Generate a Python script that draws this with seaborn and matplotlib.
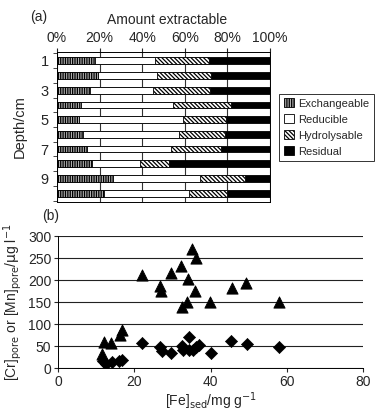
import numpy as np
import pandas as pd
import matplotlib
matplotlib.use("Agg")
import matplotlib.pyplot as plt
from matplotlib.patches import Patch
import seaborn as sns

sns.set_style("white")
plt.rcParams['font.family'] = ['Liberation Sans', 'DejaVu Sans']
plt.rcParams['hatch.linewidth'] = 0.9

# (a) fractions, % of total, per depth
depth = ["1", "2", "3", "4", "5", "6", "7", "8", "9", "10"]
exchangeable = [17.7, 19.2, 15.3, 11.4, 10.3, 12.2, 14.1, 16.4, 26.3, 22.3]
reducible = [28.5, 27.8, 29.9, 43.1, 48.8, 45.1, 39.3, 22.4, 41.0, 39.6]
hydrolysable = [25.1, 25.2, 26.5, 27.1, 20.4, 21.5, 23.5, 13.9, 21.0, 17.9]
residual = [28.7, 27.8, 28.3, 18.4, 20.5, 21.2, 23.1, 47.3, 11.7, 20.2]
fractions = ["Exchangeable", "Reducible", "Hydrolysable", "Residual"]

# (b) pore water vs sediment iron
fe_mn = [12.0, 14.0, 11.6, 16.2, 16.8, 21.9, 26.8, 27.0, 29.5, 32.3, 32.5, 34.1,
         33.9, 35.1, 36.3, 36.0, 39.8, 45.5, 49.4, 58.0]
mn_pore = [60, 58, 32, 76, 86, 212, 186, 174, 215, 233, 138, 203,
           149, 270, 250, 175, 151, 181, 193, 149]
fe_cr = [11.8, 12.5, 14.2, 15.9, 16.8, 22.0, 26.8, 27.2, 29.7, 32.4, 32.7, 34.3,
         34.3, 35.4, 36.3, 36.9, 40.0, 45.3, 49.6, 58.0]
cr_pore = [15, 10, 13, 16, 19, 58, 48, 38, 35, 50, 41, 70,
           41, 41, 47, 52, 33, 62, 54, 47]

df = pd.DataFrame({"depth": depth, "ex": exchangeable, "re": reducible,
                   "hy": hydrolysable, "rs": residual})
df["c1"] = df["ex"]
df["c2"] = df["c1"] + df["re"]
df["c3"] = df["c2"] + df["hy"]
df["c4"] = df["c3"] + df["rs"]

fig = plt.figure(figsize=(3.75, 4.11), dpi=100)
ax1 = fig.add_axes([0.152, 0.5085, 0.568, 0.365])
ax2 = fig.add_axes([0.155, 0.1046, 0.813, 0.321])

# stacked horizontal bars, drawn back to front
hyd_hatch = "\\\\\\\\\\\\\\\\"
exc_hatch = "|||||||"
styles = [("c4", "black", None), ("c3", "white", hyd_hatch),
          ("c2", "white", None), ("c1", "#b0b0b0", exc_hatch)]
for col, fc, hatch in styles:
    n0 = len(ax1.patches)
    sns.barplot(data=df, x=col, y="depth", orient="h", order=depth, ax=ax1,
                color=fc, width=0.46, edgecolor="black", linewidth=0.6,
                saturation=1)
    for p in ax1.patches[n0:]:
        p.set_facecolor(fc)
        if hatch:
            p.set_hatch(hatch)

ax1.set_xlim(0, 100)
ax1.set_ylim(9.6, -0.6)
ax1.xaxis.tick_top()
ax1.set_xticks([0, 20, 40, 60, 80, 100])
ax1.set_xticklabels([f"{v}%" for v in [0, 20, 40, 60, 80, 100]], fontsize=10)
ax1.tick_params(axis="x", length=3, pad=2)
ax1.set_yticks(range(0, 10, 2))
ax1.set_yticklabels(depth[::2], fontsize=10.5)
ax1.set_yticks(np.arange(-0.5, 10, 1), minor=True)
ax1.tick_params(axis="y", which="major", length=0, pad=6)
ax1.tick_params(axis="y", which="minor", length=3, direction="out", left=True)
ax1.xaxis.grid(True, color="#333333", linewidth=0.8)
ax1.set_axisbelow(True)
ax1.set_xlabel("")
ax1.set_ylabel("Depth/cm", fontsize=10.5, labelpad=10)
for s in ax1.spines.values():
    s.set_color("black")
    s.set_linewidth(0.7)
fig.text(0.445, 0.951, "Amount extractable", fontsize=10, ha="center", va="center")
fig.text(0.08, 0.958, "(a)", fontsize=10, va="center")

handles = [Patch(facecolor="#b0b0b0", edgecolor="black", hatch=exc_hatch, lw=0.6),
           Patch(facecolor="white", edgecolor="black", lw=0.6),
           Patch(facecolor="white", edgecolor="black", hatch=hyd_hatch, lw=0.6),
           Patch(facecolor="black", edgecolor="black", lw=0.6)]
leg = fig.legend(handles, fractions, loc="upper left",
                 bbox_to_anchor=(0.745, 0.772), fontsize=8, frameon=True,
                 fancybox=False, edgecolor="black", handlelength=0.9,
                 handleheight=0.9, handletextpad=0.4, labelspacing=0.5,
                 borderpad=0.4, borderaxespad=0)
leg.get_frame().set_linewidth(0.7)

# (b) scatter
sns.scatterplot(x=fe_mn, y=mn_pore, marker="^", color="black", s=65,
                edgecolor="black", ax=ax2)
sns.scatterplot(x=fe_cr, y=cr_pore, marker="D", color="black", s=38,
                edgecolor="black", ax=ax2)
ax2.set_xlim(0, 80)
ax2.set_ylim(0, 300)
ax2.set_xticks(range(0, 81, 20))
ax2.set_yticks(range(0, 301, 50))
ax2.tick_params(labelsize=10, length=3, direction="out", bottom=True, left=True, pad=2)
ax2.yaxis.grid(True, color="#222222", linewidth=0.8)
ax2.set_axisbelow(True)
for side in ["top", "right"]:
    ax2.spines[side].set_visible(False)
for side in ["left", "bottom"]:
    ax2.spines[side].set_color("black")
    ax2.spines[side].set_linewidth(0.7)
ax2.set_xlabel(r"[Fe]$_{\mathrm{sed}}$/mg g$^{-1}$", fontsize=10, labelpad=1)
ax2.set_ylabel(r"[Cr]$_{\mathrm{pore}}$ or [Mn]$_{\mathrm{pore}}$/$\mathrm{\mu}$g l$^{-1}$",
               fontsize=10, labelpad=3)
fig.text(0.112, 0.475, "(b)", fontsize=10, va="center")

fig.savefig("out.png", dpi=100)
